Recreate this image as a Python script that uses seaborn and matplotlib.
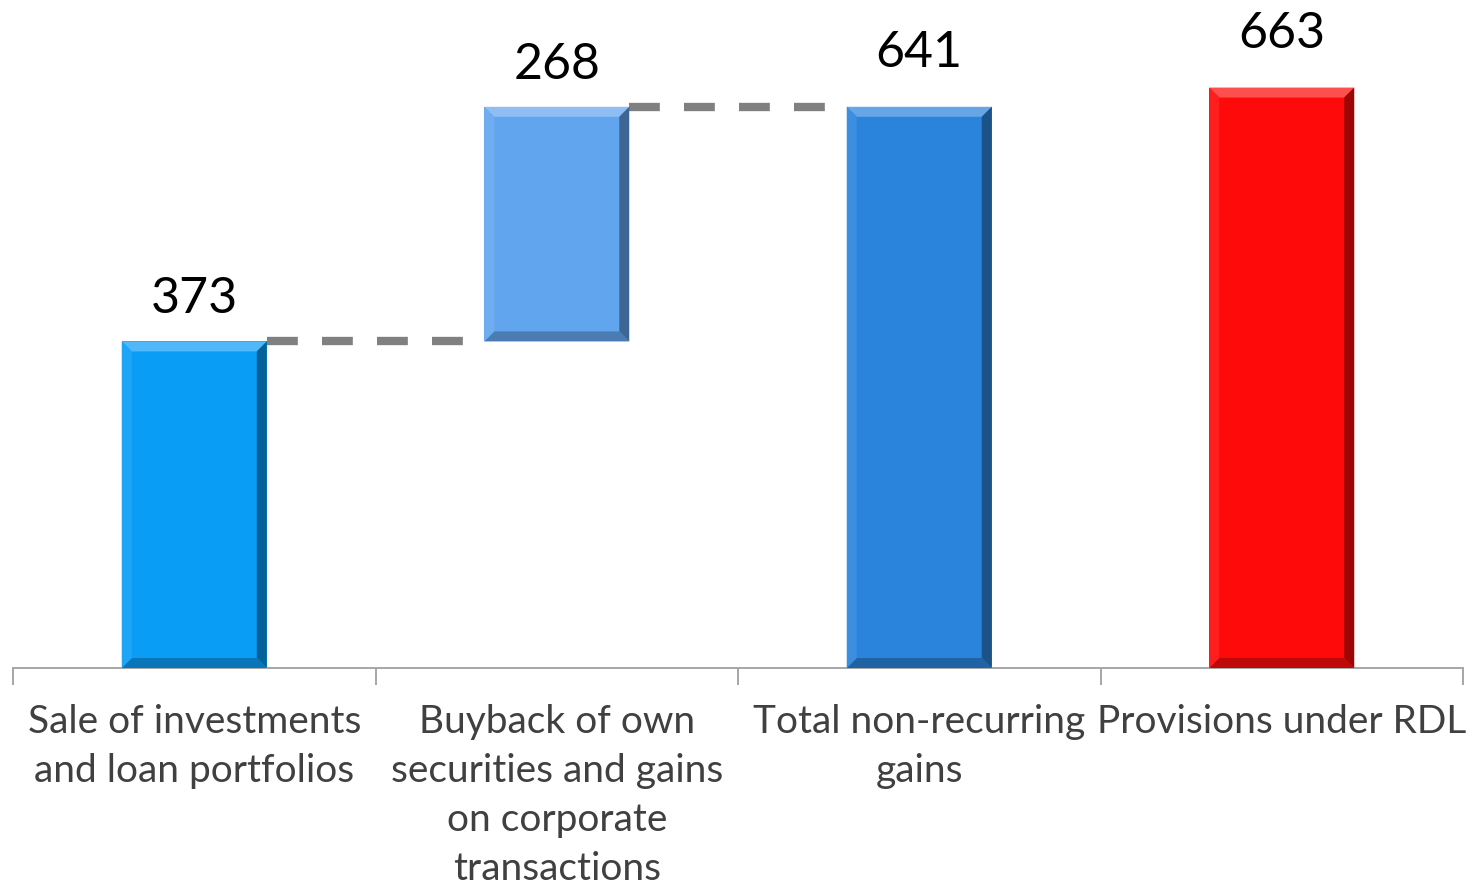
import matplotlib
matplotlib.use("Agg")
import matplotlib.pyplot as plt
from matplotlib.patches import Polygon
from matplotlib.colors import to_rgb
import numpy as np
import pandas as pd
import seaborn as sns

# Non-recurring items (EUR m)
categories = [
    "Sale of investments\nand loan portfolios",
    "Buyback of own\nsecurities and gains\non corporate\ntransactions",
    "Total non-recurring\ngains",
    "Provisions under RDL",
]
values = [373, 268, 641, 663]
bases = [0, 373, 0, 0]
colors = ["#0a9df6", "#62a5ef", "#2b84dc", "#fe0a0a"]

sns.set_theme(style="white")
plt.rcParams["font.family"] = ["Lato", "DejaVu Sans"]

df = pd.DataFrame({"category": categories, "value": values, "base": bases})
df["top"] = df["value"] + df["base"]

fig = plt.figure(figsize=(14.73, 8.90), dpi=100)
ax = fig.add_axes([13 / 1473, (890 - 668) / 890, 1450 / 1473, 668 / 890])

sns.barplot(data=df, x="category", y="top", hue="category", palette=colors,
            width=0.4, legend=False, ax=ax, saturation=1, edgecolor="none")
ax.set_xlim(-0.5, 3.5)
ax.set_ylim(0, 763)

# Waterfall: the contribution bar floats on the previous total
patches = list(ax.patches)
for p, b in zip(patches, bases):
    p.set_y(b)
    p.set_height(p.get_height() - b)

# Bevel shading on each bar
xpx = (ax.get_xlim()[1] - ax.get_xlim()[0]) / 1450
ypx = (ax.get_ylim()[1] - ax.get_ylim()[0]) / 668
bw = 10
for p, c in zip(patches, colors):
    x0, y0 = p.get_x(), p.get_y()
    x1, y1 = x0 + p.get_width(), y0 + p.get_height()
    dx, dy = bw * xpx, bw * ypx
    rgb = np.array(to_rgb(c))
    light = rgb + (1 - rgb) * 0.28
    lightl = rgb + (1 - rgb) * 0.08
    dark = rgb * 0.62
    darkb = rgb * 0.75
    ax.add_patch(Polygon([(x0, y1), (x1, y1), (x1 - dx, y1 - dy), (x0 + dx, y1 - dy)],
                         closed=True, facecolor=light, edgecolor="none", zorder=3))
    ax.add_patch(Polygon([(x1, y1), (x1, y0), (x1 - dx, y0 + dy), (x1 - dx, y1 - dy)],
                         closed=True, facecolor=dark, edgecolor="none", zorder=3))
    ax.add_patch(Polygon([(x0, y0), (x1, y0), (x1 - dx, y0 + dy), (x0 + dx, y0 + dy)],
                         closed=True, facecolor=darkb, edgecolor="none", zorder=3))
    ax.add_patch(Polygon([(x0, y0), (x0, y1), (x0 + dx, y1 - dy), (x0 + dx, y0 + dy)],
                         closed=True, facecolor=lightl, edgecolor="none", zorder=3))

# Dashed connectors between consecutive bars
for i in range(2):
    left, right = patches[i], patches[i + 1]
    level = df["top"].iloc[i]
    ax.plot([left.get_x() + left.get_width(), right.get_x()], [level, level],
            color="#808080", lw=6, dashes=(3.7, 2.9), solid_capstyle="butt",
            dash_capstyle="butt", zorder=2)

# Value labels
offsets = [28, 28, 40, 40]
for p, v, t, off in zip(patches, values, df["top"], offsets):
    ax.annotate(f"{v}", (p.get_x() + p.get_width() / 2, t),
                xytext=(0, off), textcoords="offset pixels",
                ha="center", va="baseline", fontsize=36, color="#000000")

# Axis styling
for s in ["top", "right", "left"]:
    ax.spines[s].set_visible(False)
ax.spines["bottom"].set_color("#a6a6a6")
ax.spines["bottom"].set_linewidth(1.4)
ax.set_yticks([])
ax.set_xlabel("")
ax.set_ylabel("")
ax.set_xticks(range(4))
ax.set_xticklabels(categories, fontsize=28, color="#404040", linespacing=1.45)
ax.set_xticks(np.arange(-0.5, 4, 1), minor=True)
ax.tick_params(axis="x", which="major", bottom=True, length=0, pad=26)
ax.tick_params(axis="x", which="minor", bottom=True, length=12, width=1.4,
               color="#a6a6a6", direction="out")
ax.set_facecolor("white")

fig.savefig("out.png", dpi=100, facecolor="white")
